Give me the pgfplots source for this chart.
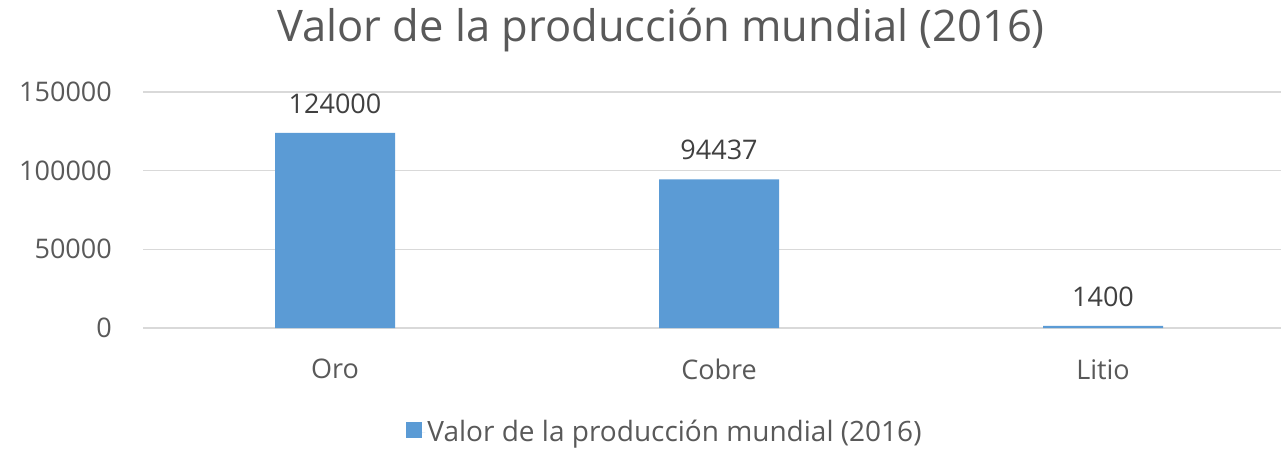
\documentclass[border=0pt]{standalone}
\usepackage{fontspec}
\setmainfont{Open Sans}
\usepackage{pgfplots}
\pgfplotsset{compat=1.18}
\definecolor{barblue}{HTML}{5B9BD5}
\definecolor{txtgray}{HTML}{595959}
\definecolor{lblgray}{HTML}{404040}
\definecolor{gridgray}{HTML}{D9D9D9}
\newcommand{\tickfont}{\fontsize{27}{31}\selectfont}
\begin{document}
\begin{tikzpicture}[x=1pt,y=1pt]
\useasboundingbox (0,0) rectangle (1281,450);
\begin{axis}[
  at={(143pt,122pt)}, anchor=south west,
  scale only axis, width=1138pt, height=236pt,
  xmin=-0.5, xmax=2.4635, ymin=0, ymax=150000,
  ytick={0,50000,100000,150000},
  xtick={0,1,2}, xticklabels={Oro,Cobre,Litio},
  axis line style={draw=none},
  ymajorgrids, grid style={gridgray, line width=1.3pt},
  major tick length=0pt,
  scaled y ticks=false,
  /pgf/number format/.cd, fixed, 1000 sep={}, assume math mode=true, /pgfplots/.cd,
  tick label style={font=\tickfont, text=txtgray},
  yticklabel style={anchor=east, inner sep=0pt, xshift=-31pt},
  xticklabel style={anchor=north, inner sep=0pt, yshift=-31pt},
  ybar, bar width=120pt,
  nodes near coords,
  nodes near coords style={font=\tickfont, text=lblgray, anchor=south, inner sep=0pt, yshift=19pt},
  legend style={at={(rel axis cs:0.4587,-0.4407)}, anchor=center, draw=none, fill=none,
    font=\fontsize{28}{32}\selectfont, text=txtgray},
  legend image code/.code={\fill[barblue] (0pt,-6pt) rectangle (16pt,10pt); \path (0pt,0pt) -- (19pt,0pt);},
]
\addplot[fill=barblue, draw=none] coordinates {(0,124000) (1,94437) (2,1400)};
\legend{Valor de la producción mundial (2016)}
\end{axis}
\node[font=\fontsize{43.5}{50}\selectfont, text=txtgray] at (661,420) {Valor de la producción mundial (2016)};
\end{tikzpicture}
\end{document}
